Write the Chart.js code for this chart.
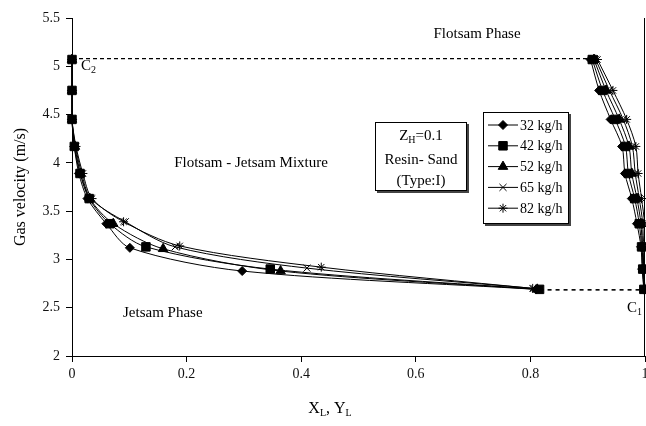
<!DOCTYPE html>
<html>
<head>
<meta charset="utf-8">
<script src="https://cdn.jsdelivr.net/npm/chart.js@4.4.0/dist/chart.umd.min.js"></script>
<style>
  html, body { margin: 0; padding: 0; background: #fff; }
</style>
</head>
<body>
<canvas id="chart" width="646" height="426"></canvas>
<script>
'use strict';

var feedRates = ['32 kg/h', '42 kg/h', '52 kg/h', '65 kg/h', '82 kg/h'];
var markers = ['rectRot', 'rect', 'triangle', 'crossRot', 'star'];
var markerSizes = [4.5, 6, 5.5, 5, 4.5];

// jetsam branch (left), gas velocity from top to bottom
var leftVel = [
  [5.07, 4.75, 4.45, 4.17, 3.89, 3.63, 3.37, 3.12, 2.88, 2.69],
  [5.07, 4.75, 4.45, 4.17, 3.89, 3.63, 3.37, 3.13, 2.90, 2.69],
  [5.07, 4.75, 4.45, 4.17, 3.89, 3.63, 3.37, 3.11, 2.88, 2.69],
  [5.07, 4.75, 4.45, 4.17, 3.89, 3.63, 3.39, 3.13, 2.91, 2.70],
  [5.07, 4.75, 4.45, 4.17, 3.89, 3.63, 3.39, 3.14, 2.92, 2.70]
];
var leftX = [
  [0, 0, 0, 0.004, 0.012, 0.027, 0.060, 0.101, 0.297, 0.810],
  [0, 0, 0, 0.004, 0.014, 0.030, 0.066, 0.129, 0.346, 0.816],
  [0, 0, 0, 0.005, 0.015, 0.031, 0.072, 0.159, 0.364, 0.812],
  [0, 0, 0, 0.006, 0.017, 0.033, 0.093, 0.180, 0.410, 0.806],
  [0, 0, 0, 0.007, 0.019, 0.035, 0.090, 0.188, 0.435, 0.804]
];

// flotsam branch (right)
var rightVel = [5.07, 4.75, 4.45, 4.17, 3.89, 3.63, 3.37, 3.13, 2.90, 2.69];
var rightX = [
  [0.905, 0.920, 0.940, 0.960, 0.965, 0.977, 0.986, 0.993, 0.995, 0.998],
  [0.908, 0.926, 0.948, 0.966, 0.971, 0.982, 0.990, 0.994, 0.996, 0.998],
  [0.911, 0.932, 0.955, 0.972, 0.977, 0.986, 0.993, 0.995, 0.997, 0.999],
  [0.914, 0.938, 0.962, 0.978, 0.983, 0.990, 0.996, 0.996, 0.998, 0.999],
  [0.917, 0.944, 0.968, 0.984, 0.988, 0.994, 0.999, 0.997, 0.998, 1.000]
];

// tie lines C2 (top) and C1 (bottom)
var tieTopX = [0, 0.91];
var tieTopY = [5.08, 5.08];
var tieBottomX = [0.816, 0.998];
var tieBottomY = [2.685, 2.685];

var xTicks = [0, 0.2, 0.4, 0.6, 0.8, 1];
var serif = '"Liberation Serif", "DejaVu Serif", serif';

function branchData(i) {
  var pts = [];
  for (var k = 0; k < leftX[i].length; k++) {
    pts.push({ x: leftX[i][k], y: leftVel[i][k] });
  }
  pts.push({ x: 0.9, y: null });
  for (var m = 0; m < rightX[i].length; m++) {
    pts.push({ x: rightX[i][m], y: rightVel[m] });
  }
  return pts;
}

function pairs(xs, ys) {
  var out = [];
  for (var k = 0; k < xs.length; k++) out.push({ x: xs[k], y: ys[k] });
  return out;
}

var datasets = [];
for (var i = 0; i < feedRates.length; i++) {
  datasets.push({
    label: feedRates[i],
    data: branchData(i),
    showLine: true,
    spanGaps: false,
    tension: 0.3,
    borderColor: '#000',
    borderWidth: 1,
    backgroundColor: '#000',
    pointStyle: markers[i],
    pointRadius: markerSizes[i],
    pointBorderColor: '#000',
    pointBackgroundColor: '#000',
    pointBorderWidth: 1,
    order: i === 1 ? -1 : 0,
    clip: { left: 8, right: 2, top: 8, bottom: 8 }
  });
}
datasets.push({
  label: 'tieTop', data: pairs(tieTopX, tieTopY), showLine: true,
  borderColor: '#000', borderWidth: 1.3, borderDash: [4, 3], pointRadius: 0, clip: false
});
datasets.push({
  label: 'tieBottom', data: pairs(tieBottomX, tieBottomY), showLine: true,
  borderColor: '#000', borderWidth: 1.6, borderDash: [4, 4], pointRadius: 0, clip: false
});

function drawSub(ctx, parts, x, y, size, align) {
  var sub = Math.round(size * 0.65);
  var total = 0;
  parts.forEach(function (p) {
    ctx.font = (p[1] ? sub : size) + 'px ' + serif;
    total += ctx.measureText(p[0]).width;
  });
  var cx = align === 'center' ? x - total / 2 : (align === 'right' ? x - total : x);
  ctx.textAlign = 'left';
  ctx.textBaseline = 'middle';
  parts.forEach(function (p) {
    ctx.font = (p[1] ? sub : size) + 'px ' + serif;
    ctx.fillText(p[0], cx, p[1] ? y + size * 0.3 : y);
    cx += ctx.measureText(p[0]).width;
  });
}

var decorations = {
  id: 'decorations',
  afterDraw: function (chart) {
    var ctx = chart.ctx;
    var area = chart.chartArea;
    ctx.save();
    ctx.fillStyle = '#000';
    ctx.strokeStyle = '#000';

    // right frame line
    ctx.lineWidth = 1;
    ctx.beginPath();
    ctx.moveTo(area.right - 0.5, area.top);
    ctx.lineTo(area.right - 0.5, area.bottom);
    ctx.stroke();

    // axis titles
    ctx.save();
    ctx.translate(21, 187);
    ctx.rotate(-Math.PI / 2);
    ctx.font = '16px ' + serif;
    ctx.textAlign = 'center';
    ctx.textBaseline = 'middle';
    ctx.fillText('Gas velocity (m/s)', 0, 0);
    ctx.restore();
    drawSub(ctx, [['X', 0], ['L', 1], [', Y', 0], ['L', 1]], 330, 409, 16, 'center');

    // region labels
    ctx.font = '15px ' + serif;
    ctx.textAlign = 'center';
    ctx.textBaseline = 'middle';
    ctx.fillText('Flotsam Phase', 477, 34);
    ctx.fillText('Flotsam - Jetsam Mixture', 251, 163);
    ctx.textAlign = 'left';
    ctx.fillText('Jetsam Phase', 123, 313);
    drawSub(ctx, [['C', 0], ['2', 1]], 81, 66, 15, 'left');
    drawSub(ctx, [['C', 0], ['1', 1]], 627, 308, 15, 'left');

    // condition box
    ctx.fillStyle = '#444';
    ctx.fillRect(377, 124, 92, 69);
    ctx.fillStyle = '#fff';
    ctx.fillRect(375, 122, 92, 69);
    ctx.lineWidth = 1;
    ctx.strokeRect(375.5, 122.5, 91, 68);
    ctx.fillStyle = '#000';
    drawSub(ctx, [['Z', 0], ['H', 1], ['=0.1', 0]], 421, 136, 15, 'center');
    ctx.font = '15px ' + serif;
    ctx.textAlign = 'center';
    ctx.fillText('Resin- Sand', 421, 160);
    ctx.fillText('(Type:I)', 421, 181);

    // legend box
    var lx = 483, ly = 112, lw = 86, lh = 112;
    ctx.fillStyle = '#444';
    ctx.fillRect(lx + 2, ly + 2, lw, lh);
    ctx.fillStyle = '#fff';
    ctx.fillRect(lx, ly, lw, lh);
    ctx.strokeRect(lx + 0.5, ly + 0.5, lw - 1, lh - 1);
    ctx.fillStyle = '#000';
    for (var j = 0; j < feedRates.length; j++) {
      var yy = ly + 13 + j * 20.8;
      ctx.lineWidth = 1;
      ctx.beginPath();
      ctx.moveTo(lx + 5, yy);
      ctx.lineTo(lx + 35, yy);
      ctx.stroke();
      Chart.helpers.drawPoint(ctx, {
        pointStyle: markers[j], radius: markerSizes[j], rotation: 0, borderWidth: 1
      }, lx + 20, yy);
      ctx.font = '14px ' + serif;
      ctx.textAlign = 'left';
      ctx.textBaseline = 'middle';
      ctx.fillText(feedRates[j], lx + 37, yy + 1);
    }
    ctx.restore();
  }
};

var ctx = document.getElementById('chart').getContext('2d');
new Chart(ctx, {
  type: 'scatter',
  data: { datasets: datasets },
  plugins: [decorations],
  options: {
    responsive: false,
    animation: false,
    devicePixelRatio: 1,
    layout: { autoPadding: false, padding: { left: 0, right: 1, top: 18, bottom: 0 } },
    plugins: {
      legend: { display: false },
      tooltip: { enabled: false }
    },
    scales: {
      x: {
        type: 'linear',
        min: 0,
        max: 1,
        afterBuildTicks: function (s) {
          s.ticks = xTicks.map(function (v) { return { value: v }; });
        },
        afterFit: function (s) {
          s.height = 70;
          s.paddingLeft = 0;
          s.paddingRight = 0;
        },
        grid: { drawOnChartArea: false, drawTicks: true, tickLength: 6, color: '#000' },
        border: { color: '#000', width: 1 },
        ticks: {
          color: '#111',
          padding: 4,
          maxRotation: 0,
          autoSkip: false,
          font: { family: serif, size: 14 },
          callback: function (v) { return String(v); }
        }
      },
      y: {
        type: 'linear',
        min: 2,
        max: 5.5,
        ticks: {
          stepSize: 0.5,
          color: '#111',
          padding: 6,
          font: { family: serif, size: 14 },
          callback: function (v) { return String(v); }
        },
        afterFit: function (s) {
          s.width = 72;
          s.paddingTop = 0;
          s.paddingBottom = 0;
        },
        grid: { drawOnChartArea: false, drawTicks: true, tickLength: 6, color: '#000' },
        border: { color: '#000', width: 1 }
      }
    }
  }
});
</script>
</body>
</html>
